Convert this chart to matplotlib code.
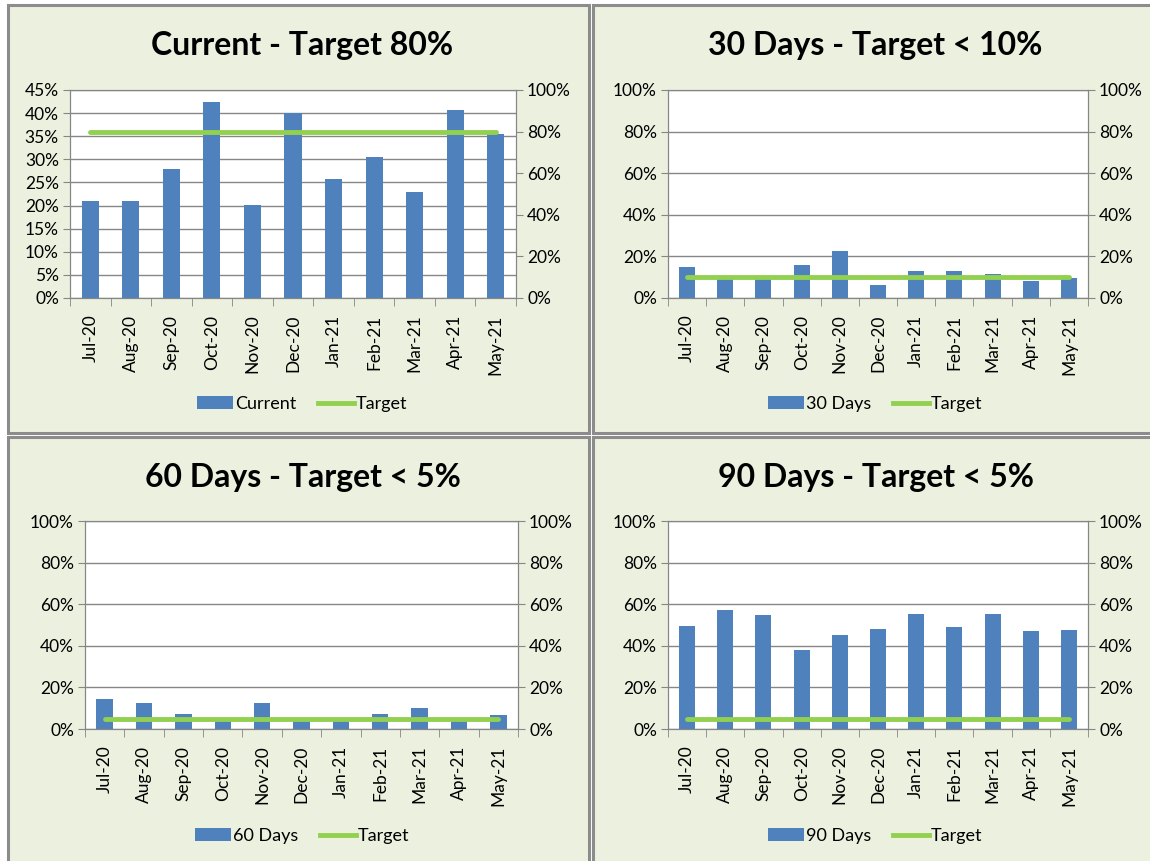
"""
Four-panel aging chart: bars per month with a target line on a secondary axis.
"""

import matplotlib
matplotlib.use('Agg')
import matplotlib.pyplot as plt
from matplotlib.patches import Rectangle, Patch
from matplotlib.lines import Line2D
from matplotlib.ticker import PercentFormatter, FixedLocator

plt.rcParams['font.family'] = ['Lato', 'DejaVu Sans']

months = ['Jul-20', 'Aug-20', 'Sep-20', 'Oct-20', 'Nov-20', 'Dec-20',
          'Jan-21', 'Feb-21', 'Mar-21', 'Apr-21', 'May-21']

current = [0.210, 0.210, 0.279, 0.423, 0.201, 0.401, 0.258, 0.306, 0.229, 0.406, 0.355]
days_30 = [0.147, 0.100, 0.098, 0.157, 0.227, 0.064, 0.130, 0.130, 0.117, 0.083, 0.098]
days_60 = [0.146, 0.123, 0.074, 0.037, 0.123, 0.050, 0.048, 0.074, 0.100, 0.050, 0.069]
days_90 = [0.496, 0.574, 0.547, 0.381, 0.450, 0.483, 0.552, 0.491, 0.555, 0.469, 0.478]

target_current = [0.80] * 11
target_30 = [0.10] * 11
target_60 = [0.05] * 11
target_90 = [0.05] * 11

titles = ['Current - Target 80%', '30 Days - Target < 10%',
          '60 Days - Target < 5%', '90 Days - Target < 5%']
series_names = ['Current', '30 Days', '60 Days', '90 Days']

W, H = 1150, 861
BAR = '#4F81BD'
GREEN = '#92D050'
GRID = '#868686'
PANEL_BG = '#EBF0DF'

fig = plt.figure(figsize=(W / 100, H / 100), dpi=100)
fig.patch.set_facecolor('white')

# panel boxes (x0, y0, x1, y1) in pixels
panels = [(8, 5, 589, 433), (593, 5, 1152, 433),
          (8, 437, 589, 863), (593, 437, 1152, 863)]
# plot areas in pixels
plot_areas = [(70, 90, 516, 298), (668, 90, 1088, 298),
              (85, 521, 518, 729), (668, 521, 1088, 729)]

data = [current, days_30, days_60, days_90]
targets = [target_current, target_30, target_60, target_90]

for (bx0, by0, bx1, by1) in panels:
    fig.patches.append(Rectangle((bx0 / W, 1 - by1 / H), (bx1 - bx0) / W, (by1 - by0) / H,
                                 transform=fig.transFigure, facecolor=PANEL_BG,
                                 edgecolor='#8C8C8C', linewidth=2.2, zorder=-5))

x = list(range(len(months)))
for i in range(4):
    x0, y0, x1, y1 = plot_areas[i]
    ax = fig.add_axes([x0 / W, 1 - y1 / H, (x1 - x0) / W, (y1 - y0) / H])
    ax.set_facecolor('white')
    ax.bar(x, data[i], width=0.42, color=BAR, zorder=2)
    ax.set_xlim(-0.5, len(months) - 0.5)

    if i == 0:
        ax.set_ylim(0, 0.45)
        ax.set_yticks([j * 0.05 for j in range(10)])
    else:
        ax.set_ylim(0, 1.0)
        ax.set_yticks([j * 0.2 for j in range(6)])
    ax.yaxis.set_major_formatter(PercentFormatter(1.0, decimals=0))
    ax.yaxis.grid(True, color=GRID, linewidth=1)
    ax.set_axisbelow(True)

    ax.set_xticks(x)
    ax.set_xticklabels(months, rotation=90, fontsize=12.5)
    ax.xaxis.set_minor_locator(FixedLocator([k - 0.5 for k in range(len(months) + 1)]))
    ax.tick_params(axis='x', which='major', length=0, pad=12)
    ax.tick_params(axis='x', which='minor', length=6, color=GRID)
    ax.tick_params(axis='y', length=5, color=GRID, labelsize=12.5, pad=3)
    for sp in ax.spines.values():
        sp.set_color(GRID)

    ax2 = ax.twinx()
    ax2.plot(x, targets[i], color=GREEN, linewidth=3.5, solid_capstyle='round', zorder=3)
    ax2.set_ylim(0, 1.0)
    ax2.set_yticks([j * 0.2 for j in range(6)])
    ax2.yaxis.set_major_formatter(PercentFormatter(1.0, decimals=0))
    ax2.tick_params(axis='y', length=5, color=GRID, labelsize=12.5, pad=3)
    for sp in ax2.spines.values():
        sp.set_color(GRID)

    # title and legend centred in the panel
    bx0, by0, bx1, by1 = panels[i]
    cx = ((bx0 + min(bx1, W)) / 2 + 4) / W
    fig.text(cx, 1 - (by0 + 40) / H, titles[i], ha='center', va='center',
             fontsize=23, fontweight='bold')
    handles = [Patch(facecolor=BAR), Line2D([0], [0], color=GREEN, linewidth=3.5)]
    fig.legend(handles, [series_names[i], 'Target'], loc='center',
               bbox_to_anchor=(cx, 1 - (by0 + 399) / H), ncol=2, frameon=False,
               fontsize=13, handlelength=2.0, handletextpad=0.1, columnspacing=1.2)

fig.savefig('out.png', dpi=100)
plt.close(fig)
